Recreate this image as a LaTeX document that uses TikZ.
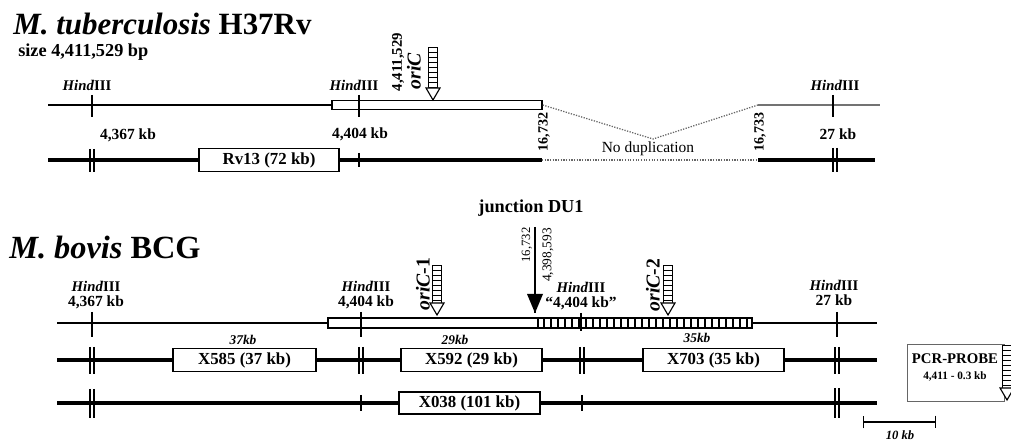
\documentclass[tikz,border=0pt]{standalone}
\usepackage{fontspec}
\setmainfont{Liberation Serif}
\usetikzlibrary{arrows.meta,positioning,calc}

% striped origin arrow: name, x, top, tip
\newcommand{\ladderarrow}[4]{%
  \pgfmathtruncatemacro{\nrung}{(#4-#3-13)/5}
  \draw[line width=0.7pt, fill=white] (#2-4.5,#3) rectangle (#2+4.5,#4-12);
  \foreach \k in {1,...,\nrung} \draw[line width=0.6pt] (#2-4.5,#3+5*\k) -- (#2+4.5,#3+5*\k);
  \draw[line width=0.8pt, fill=white] (#2-7,#4-12) -- (#2,#4) -- (#2+7,#4-12) -- cycle;
  \coordinate (#1) at (#2,#4);}
% double cut mark: x, top, bottom
\newcommand{\dtick}[3]{\draw[cutmark] (#1-2,#2) -- (#1-2,#3) (#1+2,#2) -- (#1+2,#3);}

\begin{document}
\begin{tikzpicture}[
  x=0.025cm, y=-0.025cm,
  gene/.style={draw, line width=1pt, fill=white, inner sep=0pt, minimum height=0.575cm, font=\fontsize{12}{14}\selectfont\bfseries},
  dupbox/.style={draw, line width=1pt, fill=white, inner sep=0pt, minimum height=0.22cm},
  hind/.style={inner sep=0pt, font=\fontsize{10.5}{12}\selectfont\bfseries},
  kb/.style={inner sep=0pt, font=\fontsize{11}{13}\selectfont\bfseries},
  vpos/.style={inner sep=0pt, rotate=90, font=\fontsize{10}{12}\selectfont},
  ori/.style={inner sep=0pt, rotate=90, font=\fontsize{14}{16}\selectfont\bfseries},
  kbsmall/.style={inner sep=0pt, font=\fontsize{9.5}{11}\selectfont\bfseries\itshape},
  seqline/.style={line width=1pt},
  mapline/.style={line width=2.2pt},
  cutmark/.style={line width=1pt},
  gapline/.style={densely dotted, line width=0.9pt, black!60}
]
\useasboundingbox (0,0) rectangle (1011,444);

% Titles
\node[anchor=base west, inner sep=0pt, font=\fontsize{22}{26}\selectfont\bfseries] (mtbtitle) at (13,35) {\textit{M. tuberculosis} H37Rv};
\node[anchor=base west, inner sep=0pt, font=\fontsize{13}{15}\selectfont\bfseries] (mtbsize) at (18,57) {size 4,411,529 bp};
\node[anchor=base west, inner sep=0pt, font=\fontsize{23}{27}\selectfont\bfseries] (bcgtitle) at (9,259) {\textit{M. bovis} BCG};

% H37Rv map
\coordinate (ta) at (48,105);
\coordinate (tb) at (758,105);
\coordinate (tc) at (880,105);
\coordinate (vtip) at (653,139);
\node[dupbox, minimum width=5.25cm] (dupA) at (437,105) {};
\draw[seqline] (ta) -- (dupA.west);
\draw[seqline, black!55] (tb) -- (tc);
\draw[gapline] (dupA.east) -- (vtip) -- (tb);
\draw[cutmark] (92,95) -- (92,117);
\draw[cutmark] (359,95) -- (359,117);
\draw[cutmark] (833,95) -- (833,117);

\coordinate (ma) at (48,160);
\coordinate (mb) at (542,160);
\coordinate (mc) at (758,160);
\coordinate (md) at (875,160);
\node[gene, minimum width=3.5cm] (rv13) at (269,160) {Rv13 (72 kb)};
\draw[mapline] (ma) -- (rv13.west) (rv13.east) -- (mb);
\draw[gapline] (mb) -- (mc);
\draw[mapline] (mc) -- (md);
\dtick{92}{149}{172}
\draw[cutmark] (359,153) -- (359,167);
\dtick{835}{148}{172}

\node[hind] (hindA) at (87,85) {\textit{Hind}III};
\node[hind] (hindB) at (354,85) {\textit{Hind}III};
\node[hind] (hindC) at (835,85) {\textit{Hind}III};
\node[kb] (kbA) at (128,135) {4,367 kb};
\node[kb] (kbB) at (360,134) {4,404 kb};
\node[kb] (kbC) at (838,134) {27 kb};
\node[vpos, font=\fontsize{10}{12}\selectfont\bfseries] (endA) at (544,132) {16,732};
\node[vpos, font=\fontsize{10}{12}\selectfont\bfseries] (endB) at (760,132) {16,733};
\node[inner sep=0pt, font=\fontsize{11}{13}\selectfont] (nodup) at (648,149) {No duplication};

\ladderarrow{oritip}{433}{47}{100}
\node[vpos, font=\fontsize{10.5}{13}\selectfont\bfseries] (oripos) at (398,62) {4,411,529};
\node[ori] (orilab) at (414,71) {\textit{oriC}};

% BCG map
\node[inner sep=0pt, font=\fontsize{13}{15}\selectfont\bfseries] (junc) at (531,208) {junction DU1};
\coordinate (jtop) at (535,227);
\coordinate (jtip) at (535,313);
\draw[line width=1pt] (jtop) -- (jtip);
\fill (527,294) -- (jtip) -- (543,294) -- cycle;
\node[vpos, font=\fontsize{9}{11}\selectfont] (jposA) at (527,245) {16,732};
\node[vpos, font=\fontsize{9.5}{11}\selectfont] (jposB) at (548,255) {4,398,593};

\coordinate (ra) at (57,323);
\coordinate (rb) at (877,323);
\node[dupbox, minimum width=5.25cm, minimum height=0.25cm] (bcgA) at (433,323) {};
\node[dupbox, minimum width=5.35cm, minimum height=0.25cm] (bcgB) at (645,323) {};
\foreach \xs in {544,551,...,747} \draw[line width=0.9pt] (\xs,318) -- (\xs,328);
\draw[seqline] (ra) -- (bcgA.west) (bcgB.east) -- (rb);
\draw[cutmark] (92,312) -- (92,337);
\draw[cutmark] (361,312) -- (361,337);
\draw[cutmark] (581,313) -- (581,331);
\draw[cutmark] (837,312) -- (837,337);

\node[hind] (hindD) at (96,286) {\textit{Hind}III};
\node[kb, below=3pt of hindD] (kbD) {4,367 kb};
\node[hind] (hindE) at (366,286) {\textit{Hind}III};
\node[kb, below=3pt of hindE] (kbE) {4,404 kb};
\node[hind] (hindF) at (581,287) {\textit{Hind}III};
\node[kb, below=3pt of hindF] (kbF) {``4,404 kb''};
\node[hind] (hindG) at (834,285) {\textit{Hind}III};
\node[kb, below=3pt of hindG] (kbG) {27 kb};

\ladderarrow{oriAtip}{437}{265}{315}
\node[ori] (oriA) at (423,284) {\textit{oriC}-1};
\ladderarrow{oriBtip}{668}{265}{315}
\node[ori] (oriB) at (653,285) {\textit{oriC}-2};

\node[kbsmall] (szA) at (243,340) {37kb};
\node[kbsmall] (szB) at (455,340) {29kb};
\node[kbsmall] (szC) at (697,338) {35kb};

\coordinate (sa) at (57,360);
\coordinate (sb) at (877,360);
\node[gene, minimum width=3.575cm] (x585) at (244.5,360) {X585 (37 kb)};
\node[gene, minimum width=3.525cm] (x592) at (471.5,360) {X592 (29 kb)};
\node[gene, minimum width=3.525cm] (x703) at (713.5,360) {X703 (35 kb)};
\draw[mapline] (sa) -- (x585.west) (x585.east) -- (x592.west) (x592.east) -- (x703.west) (x703.east) -- (sb);
\dtick{92}{347}{374}
\dtick{361}{347}{374}
\dtick{582}{347}{374}
\dtick{837}{347}{374}

\coordinate (ua) at (57,403);
\coordinate (ub) at (877,403);
\node[gene, minimum width=3.525cm, minimum height=0.55cm] (x038) at (469.5,403) {X038 (101 kb)};
\draw[mapline] (ua) -- (x038.west) (x038.east) -- (ub);
\dtick{92}{389}{418}
\draw[cutmark] (361,395) -- (361,411);
\draw[cutmark] (582,395) -- (582,411);
\dtick{837}{388}{418}

% PCR probe and scale
\node[draw, black!60, line width=0.6pt, inner sep=0pt, minimum width=2.425cm, minimum height=1.425cm] (pcr) at (955.5,372.5) {};
\node[inner sep=0pt, font=\fontsize{10.5}{12}\selectfont\bfseries] (pcrlab) at (955,359) {PCR-PROBE};
\node[inner sep=0pt, font=\fontsize{8}{10}\selectfont\bfseries, below=5pt of pcrlab] (pcrpos) {4,411 - 0.3 kb};
\ladderarrow{pcrtip}{1007}{345}{400}

\coordinate (bara) at (863,422);
\coordinate (barb) at (936,422);
\draw[line width=1pt, {Bar[width=9pt]}-{Bar[width=9pt]}] (bara) -- (barb);
\node[kbsmall, font=\fontsize{9}{10}\selectfont\bfseries\itshape] (barlab) at (900,435) {10 kb};

\end{tikzpicture}
\end{document}
